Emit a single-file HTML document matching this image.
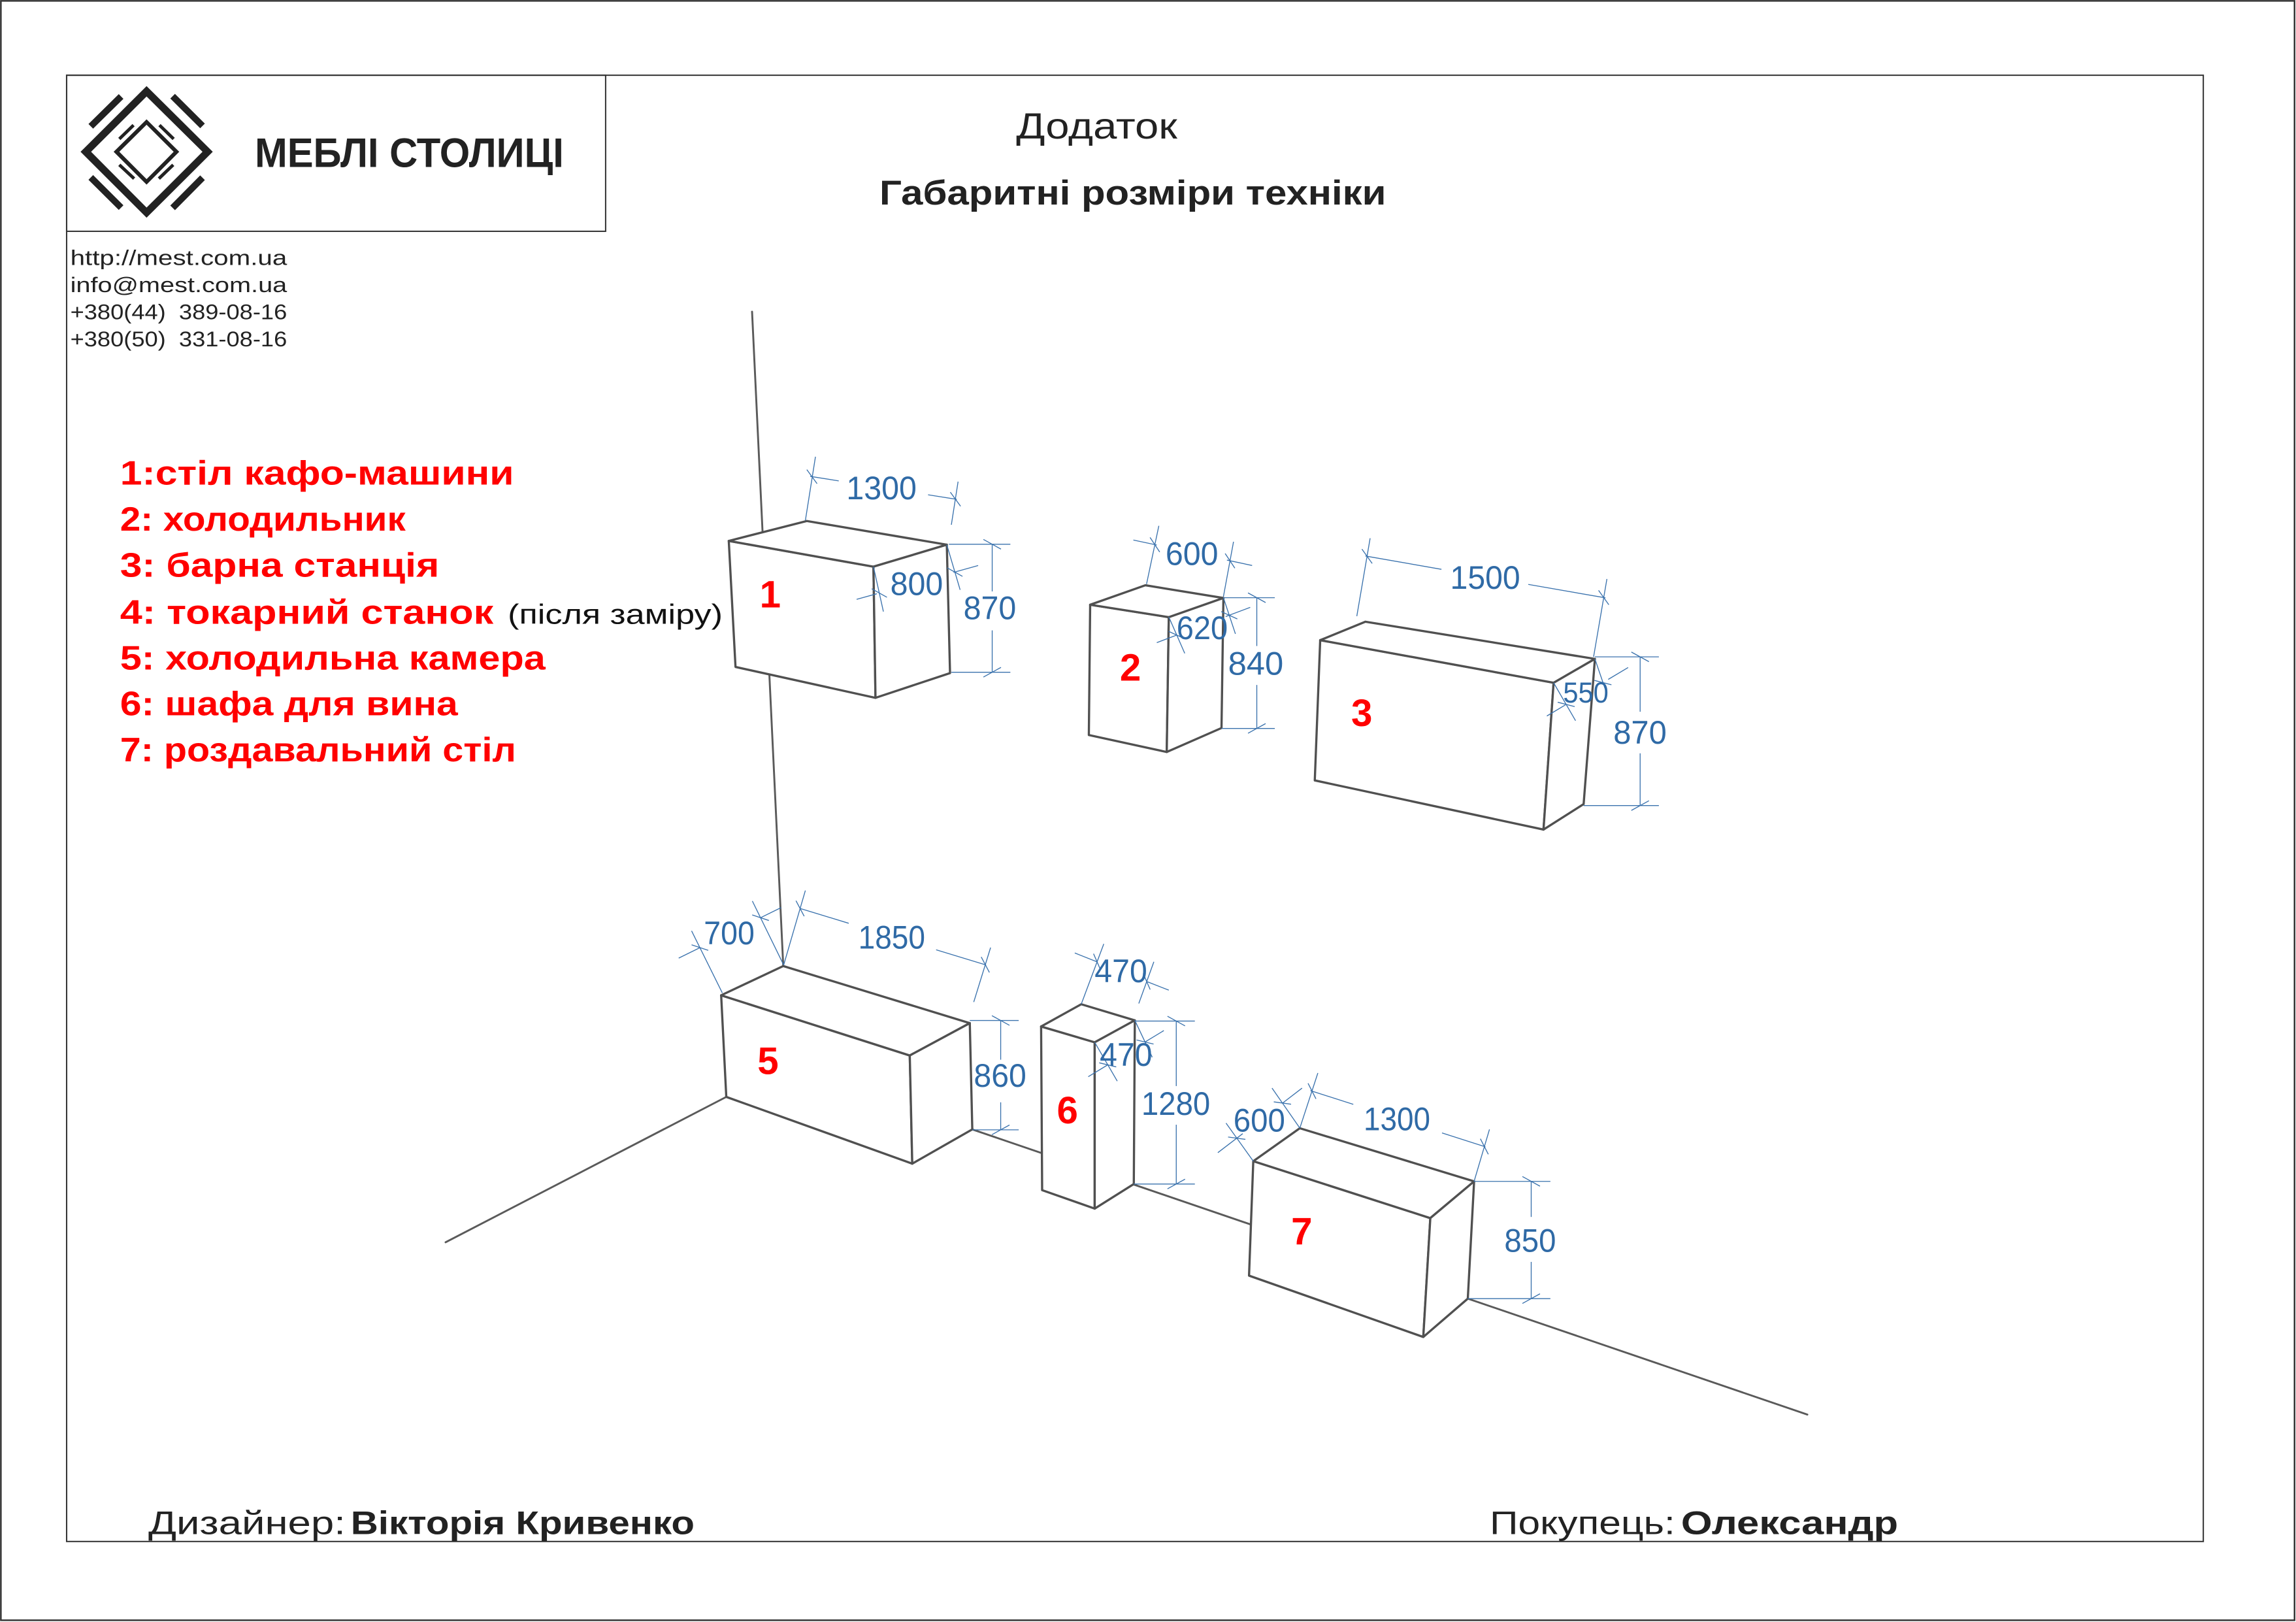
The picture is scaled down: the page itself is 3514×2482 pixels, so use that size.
<!DOCTYPE html>
<html><head><meta charset="utf-8"><style>
html,body{margin:0;padding:0;background:#fff;}
svg{display:block;}
text{font-family:"Liberation Sans","DejaVu Sans",sans-serif;}
</style></head><body>
<svg width="3514" height="2482" viewBox="0 0 1568 1108" preserveAspectRatio="none" xmlns="http://www.w3.org/2000/svg">
<rect x="0" y="0" width="1568" height="1108" fill="#fff"/>
<!-- outer + inner frames -->
<rect x="0.6" y="0.6" width="1566.4" height="1106.2" fill="none" stroke="#333" stroke-width="1.1"/>
<rect x="45.5" y="51.4" width="1459.2" height="1001.6" fill="none" stroke="#333" stroke-width="0.9"/>
<rect x="45.5" y="51.4" width="368.1" height="106.6" fill="none" stroke="#333" stroke-width="0.9"/>

<!-- logo -->
<path fill="#222" fill-rule="evenodd" d="M100.1,58.8 L145.3,103.7 L100.1,148.7 L55,103.7 Z M100.1,65.9 L62.2,103.7 L100.1,141.8 L138.3,103.7 Z"/>
<path fill="#222" fill-rule="evenodd" d="M100.1,81.5 L122.4,103.7 L100.1,126.1 L77.6,103.7 Z M100.1,85.2 L81.5,103.7 L100.1,122.4 L118.6,103.7 Z"/>
<g stroke="#222" stroke-width="4.5" stroke-linecap="butt">
<line x1="62" y1="86.3" x2="82.7" y2="65.9"/>
<line x1="117.9" y1="65.7" x2="138.3" y2="86"/>
<line x1="62" y1="121.2" x2="82.7" y2="141.8"/>
<line x1="138.3" y1="121.4" x2="117.9" y2="142"/>
</g>
<g stroke="#222" stroke-width="2.2">
<line x1="81.5" y1="94.9" x2="91.2" y2="85.5"/>
<line x1="108.9" y1="85.5" x2="118.6" y2="94.9"/>
<line x1="81.5" y1="112.6" x2="91.6" y2="122"/>
<line x1="118.3" y1="112.6" x2="108.5" y2="122"/>
</g>
<text x="174" y="114" font-size="28" font-weight="bold" fill="#222" textLength="211" lengthAdjust="spacingAndGlyphs">МЕБЛІ СТОЛИЦІ</text>

<!-- contacts -->
<g font-size="14.5" fill="#222" style="white-space:pre">
<text x="48" y="181" textLength="148" lengthAdjust="spacingAndGlyphs">http://mest.com.ua</text>
<text x="48" y="199.5" textLength="148" lengthAdjust="spacingAndGlyphs">info@mest.com.ua</text>
<text x="48" y="218" textLength="148" lengthAdjust="spacingAndGlyphs" xml:space="preserve">+380(44)  389-08-16</text>
<text x="48" y="236.5" textLength="148" lengthAdjust="spacingAndGlyphs" xml:space="preserve">+380(50)  331-08-16</text>
</g>

<!-- titles -->
<text x="694" y="94.6" font-size="24.7" fill="#222" textLength="110" lengthAdjust="spacingAndGlyphs">Додаток</text>
<text x="600.6" y="139.7" font-size="23.6" font-weight="bold" fill="#222" textLength="346" lengthAdjust="spacingAndGlyphs">Габаритні розміри техніки</text>

<!-- legend -->
<g font-size="23" font-weight="bold" fill="#f00">
<text x="82" y="331" textLength="269" lengthAdjust="spacingAndGlyphs">1:стіл кафо-машини</text>
<text x="82" y="362.6" textLength="195" lengthAdjust="spacingAndGlyphs">2: холодильник</text>
<text x="82" y="394" textLength="218" lengthAdjust="spacingAndGlyphs">3: барна станція</text>
<text x="82" y="426" textLength="255" lengthAdjust="spacingAndGlyphs">4: токарний станок</text>
<text x="82" y="457.4" textLength="290.5" lengthAdjust="spacingAndGlyphs">5: холодильна камера</text>
<text x="82" y="488.5" textLength="230.7" lengthAdjust="spacingAndGlyphs">6: шафа для вина</text>
<text x="82" y="520" textLength="270.5" lengthAdjust="spacingAndGlyphs">7: роздавальний стіл</text>
</g>
<text x="346.8" y="426" font-size="19" fill="#111" textLength="146.7" lengthAdjust="spacingAndGlyphs">(після заміру)</text>

<!-- wall / floor lines -->
<g stroke="#5a5a5a" stroke-width="1.3" fill="none" stroke-linecap="round">
<line x1="513.6" y1="212.9" x2="534.9" y2="659.9"/>
<line x1="496" y1="749.3" x2="304.3" y2="848.6"/>
<line x1="664" y1="771.5" x2="1234.3" y2="966.3"/>
</g>

<!-- boxes -->
<g fill="#fff" stroke="#505050" stroke-width="1.5" stroke-linejoin="round">
<!-- box1 -->
<polygon points="497.7,369.5 596.5,387.1 597.9,476.7 502.3,455.6"/>
<polygon points="497.7,369.5 551,355.9 646.6,372.1 596.5,387.1"/>
<polygon points="596.5,387.1 646.6,372.1 648.8,459.8 597.9,476.7"/>
<!-- box2 -->
<polygon points="744.5,413.1 798.2,421.6 796.8,513.7 743.6,502.1"/>
<polygon points="744.5,413.1 782.2,399.8 835.5,408.5 798.2,421.6"/>
<polygon points="798.2,421.6 835.5,408.5 834.2,497.3 796.8,513.7"/>
<!-- box3 -->
<polygon points="901.6,437.3 1061,466.4 1054.1,566.7 897.9,533.1"/>
<polygon points="901.6,437.3 932.5,424.7 1089.2,450.1 1061,466.4"/>
<polygon points="1061,466.4 1089.2,450.1 1081.5,549.3 1054.1,566.7"/>
<!-- box5 -->
<polygon points="492.5,679.9 621.3,721 623,794.9 496,749.3"/>
<polygon points="492.5,679.9 534.9,659.9 662.3,698.9 621.3,721"/>
<polygon points="621.3,721 662.3,698.9 664,771.5 623,794.9"/>
<!-- box6 -->
<polygon points="711,701.2 747.6,712 747.6,825.6 711.7,813"/>
<polygon points="711,701.2 738.4,686 775,697 747.6,712"/>
<polygon points="747.6,712 775,697 774.3,808.8 747.6,825.6"/>
<!-- box7 -->
<polygon points="855.9,793.2 976.8,832.1 972,913.3 853,871.4"/>
<polygon points="855.9,793.2 887.7,770.7 1006.7,807 976.8,832.1"/>
<polygon points="976.8,832.1 1006.7,807 1002.4,887.1 972,913.3"/>
</g>

<!-- dimension lines -->
<g stroke="#3a72ad" stroke-width="0.6" fill="none">
<!-- box1 1300 -->
<line x1="550" y1="355.6" x2="556.9" y2="312"/>
<line x1="649.7" y1="358.5" x2="654.3" y2="329"/>
<line x1="553.3" y1="325.4" x2="572.8" y2="328.5"/>
<line x1="633.8" y1="338" x2="653.4" y2="341.1"/>
<line x1="551" y1="320.8" x2="558" y2="330.4"/>
<line x1="649" y1="336.2" x2="656" y2="345.8"/>
<!-- box1 800 -->
<line x1="596.5" y1="387.1" x2="603.3" y2="417.8"/>
<line x1="646.6" y1="372.1" x2="655.7" y2="402.9"/>
<line x1="585" y1="409.4" x2="598.8" y2="405.6"/>
<line x1="651.2" y1="391" x2="668" y2="386.3"/>
<line x1="595.3" y1="402.2" x2="605.7" y2="408"/>
<line x1="646.9" y1="387.9" x2="657.3" y2="393.7"/>
<!-- box1 870 -->
<line x1="648" y1="371.8" x2="690" y2="371.8"/>
<line x1="649.7" y1="459.2" x2="690" y2="459.2"/>
<line x1="677.6" y1="371.8" x2="677.6" y2="404"/>
<line x1="677.6" y1="430.6" x2="677.6" y2="459.2"/>
<line x1="671.6" y1="368.5" x2="683.6" y2="375.1"/>
<line x1="671.6" y1="462.5" x2="683.6" y2="455.9"/>
<!-- box2 600 -->
<line x1="783" y1="399" x2="791.4" y2="359.2"/>
<line x1="835.5" y1="407.6" x2="842.4" y2="370.1"/>
<line x1="774" y1="368.9" x2="790" y2="372.3"/>
<line x1="837.9" y1="382.6" x2="855.1" y2="386.3"/>
<line x1="785.4" y1="367.1" x2="792" y2="377.1"/>
<line x1="836.7" y1="378.1" x2="843.3" y2="388.1"/>
<!-- box2 620 -->
<line x1="798.2" y1="421.4" x2="809.1" y2="446.3"/>
<line x1="835.5" y1="408.3" x2="843.7" y2="433"/>
<line x1="790" y1="439" x2="803.7" y2="433.8"/>
<line x1="837" y1="421.2" x2="853.8" y2="414.9"/>
<line x1="798.1" y1="431.3" x2="809.1" y2="436.3"/>
<line x1="834" y1="417.8" x2="845" y2="422.8"/>
<!-- box2 840 -->
<line x1="835.5" y1="408.3" x2="870.6" y2="408.3"/>
<line x1="834.2" y1="497.6" x2="870.6" y2="497.6"/>
<line x1="858.3" y1="408.3" x2="858.3" y2="441.3"/>
<line x1="858.3" y1="467.9" x2="858.3" y2="497.6"/>
<line x1="852.3" y1="405" x2="864.3" y2="411.6"/>
<line x1="852.3" y1="500.9" x2="864.3" y2="494.3"/>
<!-- box3 1500 -->
<line x1="926.6" y1="420.9" x2="935.7" y2="367.7"/>
<line x1="1088.3" y1="448.7" x2="1097.4" y2="395.5"/>
<line x1="932.5" y1="379.8" x2="984.4" y2="388.9"/>
<line x1="1043.7" y1="399.2" x2="1096.4" y2="408.4"/>
<line x1="930.1" y1="375.1" x2="937.1" y2="384.9"/>
<line x1="1091.7" y1="403.3" x2="1098.7" y2="413.1"/>
<!-- box3 550 -->
<line x1="1061" y1="466.4" x2="1076" y2="492.3"/>
<line x1="1089.2" y1="450.1" x2="1097.4" y2="474.1"/>
<line x1="1056.4" y1="489.1" x2="1069.1" y2="481.5"/>
<line x1="1098.3" y1="464.1" x2="1111.9" y2="456"/>
<line x1="1063.8" y1="479.7" x2="1075.4" y2="482.7"/>
<line x1="1088.9" y1="464.8" x2="1100.5" y2="467.8"/>
<!-- box3 870 -->
<line x1="1089.2" y1="448.7" x2="1132.9" y2="448.7"/>
<line x1="1081.5" y1="550.3" x2="1132.9" y2="550.3"/>
<line x1="1120.1" y1="448.7" x2="1120.1" y2="486.2"/>
<line x1="1120.1" y1="514.6" x2="1120.1" y2="550.3"/>
<line x1="1114.1" y1="445.4" x2="1126.1" y2="452"/>
<line x1="1114.1" y1="553.6" x2="1126.1" y2="547"/>
<!-- box5 700 -->
<line x1="493.3" y1="678.3" x2="472.3" y2="635.9"/>
<line x1="535.2" y1="659.2" x2="513.8" y2="615.5"/>
<line x1="463.5" y1="654.5" x2="477.9" y2="647.4"/>
<line x1="519.4" y1="626.9" x2="533.4" y2="620"/>
<line x1="472.3" y1="645.4" x2="483.7" y2="649.2"/>
<line x1="513.7" y1="625" x2="525.1" y2="628.8"/>
<!-- box5 1850 -->
<line x1="535.2" y1="659.2" x2="550" y2="608.3"/>
<line x1="665" y1="684.5" x2="676.5" y2="647.3"/>
<line x1="546.2" y1="620.5" x2="579.6" y2="630.7"/>
<line x1="639.3" y1="648.8" x2="673.4" y2="659.2"/>
<line x1="543.6" y1="615.3" x2="549.2" y2="625.9"/>
<line x1="670.1" y1="653.7" x2="675.7" y2="664.3"/>
<!-- box5 860 -->
<line x1="662.3" y1="697.1" x2="695.7" y2="697.1"/>
<line x1="664" y1="771.8" x2="695.7" y2="771.8"/>
<line x1="683.4" y1="697.1" x2="683.4" y2="723.9"/>
<line x1="683.4" y1="753" x2="683.4" y2="771.8"/>
<line x1="677.4" y1="693.8" x2="689.4" y2="700.4"/>
<line x1="677.4" y1="775.1" x2="689.4" y2="768.5"/>
<!-- box6 470 top -->
<line x1="738.4" y1="686" x2="753.8" y2="644.8"/>
<line x1="777.7" y1="685.5" x2="788" y2="657"/>
<line x1="734" y1="651" x2="749.4" y2="657.1"/>
<line x1="783.5" y1="670.6" x2="798.2" y2="676.4"/>
<line x1="746.8" y1="651.5" x2="751.6" y2="662.5"/>
<line x1="780.7" y1="665" x2="785.5" y2="676"/>
<!-- box6 470 side -->
<line x1="747.6" y1="712" x2="763" y2="738.5"/>
<line x1="775" y1="697" x2="786.9" y2="722.2"/>
<line x1="743.2" y1="735.5" x2="756.2" y2="727.6"/>
<line x1="781.8" y1="711.9" x2="794.8" y2="704"/>
<line x1="750.7" y1="726" x2="762.3" y2="728.8"/>
<line x1="776.2" y1="710.4" x2="787.8" y2="713.2"/>
<!-- box6 1280 -->
<line x1="775" y1="697.5" x2="816" y2="697.5"/>
<line x1="774.3" y1="808.8" x2="816" y2="808.8"/>
<line x1="803.3" y1="697.5" x2="803.3" y2="741.9"/>
<line x1="803.3" y1="768.3" x2="803.3" y2="808.8"/>
<line x1="797.3" y1="694.2" x2="809.3" y2="700.8"/>
<line x1="797.3" y1="812.1" x2="809.3" y2="805.5"/>
<!-- box7 600 -->
<line x1="855.9" y1="793.2" x2="837.3" y2="767.2"/>
<line x1="887.7" y1="770.6" x2="868.7" y2="743.3"/>
<line x1="831.7" y1="787.4" x2="848.7" y2="774.4"/>
<line x1="875.8" y1="753.6" x2="889.2" y2="743.3"/>
<line x1="838.7" y1="776.7" x2="850.5" y2="778.3"/>
<line x1="869.9" y1="752.7" x2="881.7" y2="754.3"/>
<!-- box7 1300 -->
<line x1="887.7" y1="770.6" x2="900" y2="733"/>
<line x1="1006.7" y1="807" x2="1017.2" y2="771.5"/>
<line x1="894.9" y1="745" x2="924.2" y2="754.4"/>
<line x1="984.8" y1="773.9" x2="1014.4" y2="783.4"/>
<line x1="893.3" y1="740" x2="898.7" y2="750.6"/>
<line x1="1011" y1="777.9" x2="1016.4" y2="788.5"/>
<!-- box7 850 -->
<line x1="1006.7" y1="807" x2="1058.8" y2="807"/>
<line x1="1002.4" y1="887.1" x2="1058.8" y2="887.1"/>
<line x1="1045.7" y1="807" x2="1045.7" y2="831.3"/>
<line x1="1045.7" y1="862" x2="1045.7" y2="887.1"/>
<line x1="1039.7" y1="803.7" x2="1051.7" y2="810.3"/>
<line x1="1039.7" y1="890.4" x2="1051.7" y2="883.8"/>
</g>

<!-- dimension texts -->
<g font-size="22.5" fill="#2f6aa6" text-anchor="middle">
<text x="602" y="341" textLength="48" lengthAdjust="spacingAndGlyphs">1300</text>
<text x="626" y="406.5" textLength="36" lengthAdjust="spacingAndGlyphs">800</text>
<text x="676" y="423" textLength="36" lengthAdjust="spacingAndGlyphs">870</text>
<text x="814" y="386" textLength="36" lengthAdjust="spacingAndGlyphs">600</text>
<text x="821" y="436.6" textLength="35" lengthAdjust="spacingAndGlyphs">620</text>
<text x="857.6" y="461" textLength="37.8" lengthAdjust="spacingAndGlyphs">840</text>
<text x="1014.3" y="402.3" textLength="47.8" lengthAdjust="spacingAndGlyphs">1500</text>
<text x="1083" y="480" textLength="31" lengthAdjust="spacingAndGlyphs" font-size="20">550</text>
<text x="1120" y="508" textLength="36.4" lengthAdjust="spacingAndGlyphs">870</text>
<text x="498" y="645" textLength="34.6" lengthAdjust="spacingAndGlyphs">700</text>
<text x="609" y="648" textLength="45.7" lengthAdjust="spacingAndGlyphs">1850</text>
<text x="683" y="742.4" textLength="35.9" lengthAdjust="spacingAndGlyphs">860</text>
<text x="765.5" y="671" textLength="35.9" lengthAdjust="spacingAndGlyphs">470</text>
<text x="769" y="728" textLength="35.9" lengthAdjust="spacingAndGlyphs">470</text>
<text x="803" y="761.5" textLength="47" lengthAdjust="spacingAndGlyphs">1280</text>
<text x="860" y="773" textLength="35.3" lengthAdjust="spacingAndGlyphs">600</text>
<text x="954" y="772" textLength="45.5" lengthAdjust="spacingAndGlyphs">1300</text>
<text x="1045" y="855" textLength="35.3" lengthAdjust="spacingAndGlyphs">850</text>
</g>

<!-- red box numbers -->
<g font-size="26" font-weight="bold" fill="#f00" text-anchor="middle">
<text x="526" y="415">1</text>
<text x="772" y="465">2</text>
<text x="930" y="496">3</text>
<text x="524.5" y="733.6">5</text>
<text x="729" y="767.5">6</text>
<text x="889" y="850">7</text>
</g>

<!-- footer -->
<g font-size="22.5" fill="#222">
<text x="101.3" y="1048" textLength="134.7" lengthAdjust="spacingAndGlyphs">Дизайнер:</text>
<text x="239.5" y="1048" font-weight="bold" textLength="234.8" lengthAdjust="spacingAndGlyphs">Вікторія Кривенко</text>
<text x="1017.4" y="1048" textLength="126.6" lengthAdjust="spacingAndGlyphs">Покупець:</text>
<text x="1148" y="1048" font-weight="bold" textLength="148.3" lengthAdjust="spacingAndGlyphs">Олександр</text>
</g>
</svg>
</body></html>
